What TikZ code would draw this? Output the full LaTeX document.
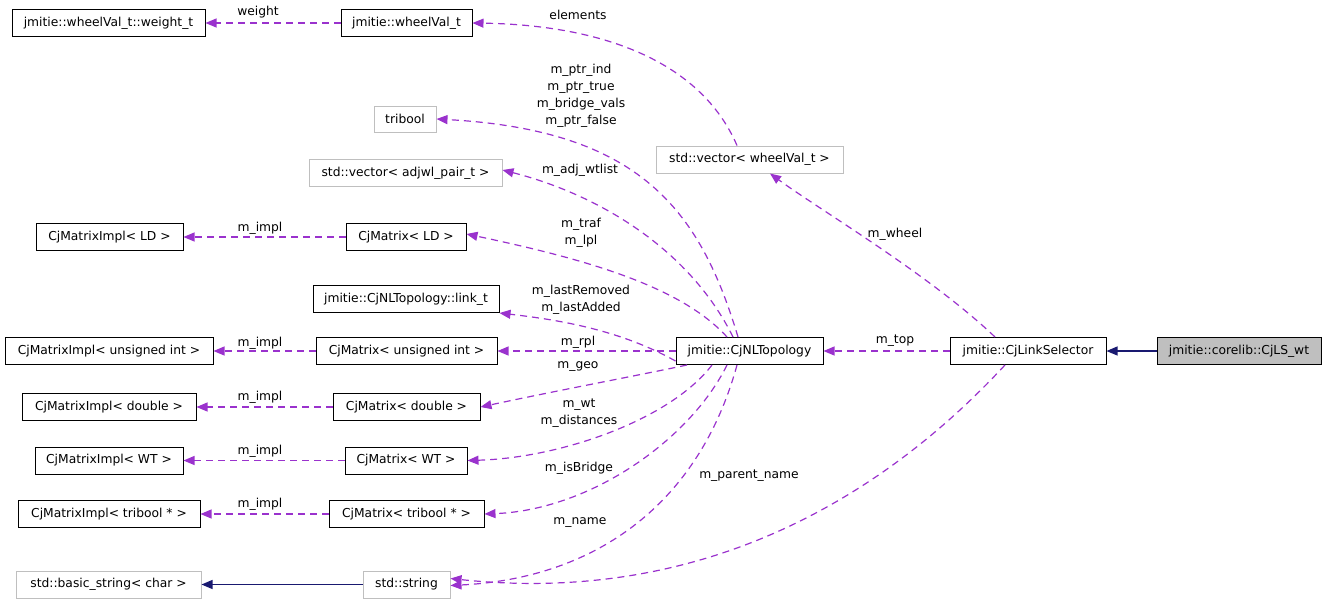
\documentclass[tikz,border=0pt]{standalone}
\usepackage{fontspec}
\setmainfont{DejaVu Sans}
\usepackage{tikz}
\usetikzlibrary{arrows.meta, positioning}

\definecolor{usecol}{HTML}{9A32CD}
\definecolor{inhcol}{HTML}{191970}

\begin{document}
\begin{tikzpicture}[
    x=1pt, y=-1pt,
    node distance=1.2cm and 1.8cm,
    every node/.style={font=\fontsize{12.3}{17}\selectfont},
    cls/.style={rectangle, draw=black, line width=1pt, minimum height=27pt, inner sep=2pt, text centered},
    undoc/.style={cls, draw=gray!50},
    focus/.style={cls, fill=gray!50},
    lbl/.style={inner sep=0pt, align=center},
    member/.style={draw=usecol, line width=1.2pt, dash pattern=on 7pt off 5pt, -{Triangle[length=11pt, width=9pt]}},
    inherit/.style={draw=inhcol, line width=1.2pt, -{Triangle[length=11pt, width=9pt]}}
]
    \useasboundingbox (0,0) rectangle (1325,605);

    % Top row
    \node[cls, minimum width=193pt] (weight) at (108.5,23) {jmitie::wheelVal\_t::weight\_t};
    \node[cls, minimum width=131pt] (wheelval) at (406.5,23) {jmitie::wheelVal\_t};

    % Used types
    \node[undoc, minimum width=62pt, minimum height=26pt] (tribool) at (405,119) {tribool};
    \node[undoc, minimum width=187pt] (vecwheel) at (749.5,159.5) {std::vector< wheelVal\_t >};
    \node[undoc, minimum width=193pt] (vecadj) at (405.5,173) {std::vector< adjwl\_pair\_t >};
    \node[cls, minimum width=186pt] (linkt) at (406,299) {jmitie::CjNLTopology::link\_t};

    % Matrices
    \node[cls, minimum width=120pt] (mld) at (406,237) {CjMatrix< LD >};
    \node[cls, minimum width=181pt] (muint) at (406.5,351) {CjMatrix< unsigned int >};
    \node[cls, minimum width=147pt] (mdbl) at (406.5,407) {CjMatrix< double >};
    \node[cls, minimum width=122pt] (mwt) at (406,460.5) {CjMatrix< WT >};
    \node[cls, minimum width=155pt] (mtb) at (406.5,514) {CjMatrix< tribool * >};

    % Implementations
    \node[cls, minimum width=147pt] (implld) at (109.5,237) {CjMatrixImpl< LD >};
    \node[cls, minimum width=208pt] (impluint) at (109,351) {CjMatrixImpl< unsigned int >};
    \node[cls, minimum width=174pt] (impldbl) at (109,407) {CjMatrixImpl< double >};
    \node[cls, minimum width=148pt] (implwt) at (109,460.5) {CjMatrixImpl< WT >};
    \node[cls, minimum width=182pt] (impltb) at (109,514) {CjMatrixImpl< tribool * >};

    % Strings
    \node[undoc, minimum width=185pt] (basicstr) at (108.5,584.5) {std::basic\_string< char >};
    \node[undoc, minimum width=87pt] (stdstr) at (406.5,584.5) {std::string};

    % Main chain
    \node[cls, minimum width=147pt] (topology) at (749.5,351) {jmitie::CjNLTopology};
    \node[cls, minimum width=156pt, right=126pt of topology] (selector) {jmitie::CjLinkSelector};
    \node[focus, minimum width=164pt, right=50pt of selector] (lswt) {jmitie::corelib::CjLS\_wt};

    % Inheritance
    \draw[inherit] (lswt) -- (selector);
    \draw[inherit] (stdstr) -- (basicstr);

    % Members
    \draw[member] (wheelval) -- (weight);
    \draw[member] (vecwheel.north -| 737,0) .. controls (700,60) and (600,25) .. (wheelval.east);
    \draw[member] (topology.north -| 738,0) .. controls (700,210) and (640,130) .. (tribool.east);
    \draw[member] (topology.north -| 733,0) .. controls (690,250) and (600,195) .. ([yshift=3pt]vecadj.east);
    \draw[member] (topology.north -| 727,0) .. controls (680,285) and (580,258) .. ([yshift=3pt]mld.east);
    \draw[member] ([yshift=-10pt]topology.west) .. controls (620,330) and (560,320) .. (linkt.south east);
    \draw[member] (topology) -- (muint);
    \draw[member] (topology.south -| 687,0) .. controls (640,375) and (560,390) .. (mdbl.east);
    \draw[member] (topology.south -| 712,0) .. controls (670,420) and (560,458) .. (mwt.east);
    \draw[member] (topology.south -| 727,0) .. controls (690,440) and (590,510) .. (mtb.east);
    \draw[member] (topology.south -| 737,0) .. controls (700,500) and (600,578) .. ([yshift=-1pt]stdstr.east);
    \draw[member] (selector.south -| 1005,0) .. controls (880,500) and (700,605) .. ([yshift=6pt]stdstr.east);
    \draw[member] (selector) -- (topology);
    \draw[member] (selector.north -| 995,0) .. controls (930,275) and (820,210) .. (vecwheel.south -| 770,0);
    \draw[member] (mld) -- (implld);
    \draw[member] (muint) -- (impluint);
    \draw[member] (mdbl) -- (impldbl);
    \draw[member] (mwt) -- (implwt);
    \draw[member] (mtb) -- (impltb);

    % Labels
    \node[lbl] (lweight) at (258,12) {weight};
    \node[lbl] (lelements) at (578,15) {elements};
    \node[lbl] (lptr) at (581,96) {m\_ptr\_ind\\m\_ptr\_true\\m\_bridge\_vals\\m\_ptr\_false};
    \node[lbl] (ladj) at (580,170) {m\_adj\_wtlist};
    \node[lbl] (ltraf) at (581,233) {m\_traf\\m\_lpl};
    \node[lbl] (llast) at (581,299.5) {m\_lastRemoved\\m\_lastAdded};
    \node[lbl] (lrpl) at (578,342) {m\_rpl};
    \node[lbl] (lgeo) at (578,367) {m\_geo};
    \node[lbl] (lwt) at (579,413.5) {m\_wt\\m\_distances};
    \node[lbl] (lbridge) at (579,468) {m\_isBridge};
    \node[lbl] (lname) at (580,522) {m\_name};
    \node[lbl] (lparent) at (749,476) {m\_parent\_name};
    \node[lbl] (ltop) at (895,341) {m\_top};
    \node[lbl] (lwheel) at (895,234) {m\_wheel};
    \node[lbl] (limplld) at (260,228) {m\_impl};
    \node[lbl] (limpluint) at (260,343) {m\_impl};
    \node[lbl] (limpldbl) at (260,397) {m\_impl};
    \node[lbl] (limplwt) at (260,451) {m\_impl};
    \node[lbl] (limpltb) at (260,504) {m\_impl};
\end{tikzpicture}
\end{document}
